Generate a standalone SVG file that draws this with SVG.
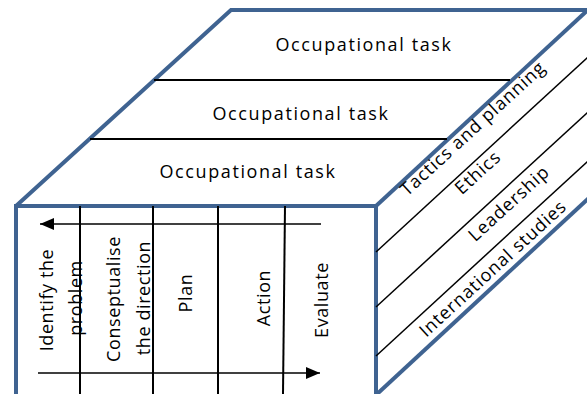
<svg xmlns="http://www.w3.org/2000/svg" width="587" height="394" viewBox="0 0 587 394">
<style>
.edge{fill:none;stroke:#3f6391;stroke-width:4;stroke-linejoin:miter}
.div{fill:none;stroke:#000;stroke-width:2}
.thin{fill:none;stroke:#000;stroke-width:1.5}
.arrow{fill:none;stroke:#000;stroke-width:1.5;marker-end:url(#ah)}
text{font-family:"Open Sans","Liberation Sans",sans-serif;font-size:18px;fill:#000;text-anchor:middle}
.task{letter-spacing:1.6px}
.step{letter-spacing:0.6px}
.subj{letter-spacing:0.9px}
</style>
<defs>
<marker id="ah" markerUnits="userSpaceOnUse" markerWidth="14" markerHeight="12" refX="14" refY="6" orient="auto">
<path d="M0,0 L14,6 L0,12 Z" fill="#000"/>
</marker>
</defs>
<rect width="587" height="394" fill="#fff"/>
<g id="cube">
<path class="edge" d="M16,206 L231,10 H592"/>
<path class="edge" d="M16,400 V206 H376 V400"/>
<path class="edge" d="M376,206 L590,8"/>
<path class="edge" d="M376,395 L590,197"/>
</g>
<g id="connectors">
<path class="div" d="M154,80 H510"/>
<path class="div" d="M90,139 H447"/>
<path class="div" d="M80,206 V394"/>
<path class="div" d="M153,206 V394"/>
<path class="div" d="M218,206 V394"/>
<path class="div" d="M285,206 L283,394"/>
<path class="thin" d="M376,252 L588,57"/>
<path class="thin" d="M376,307 L588,112"/>
<path class="thin" d="M376,356 L588,161"/>
<path class="arrow" d="M321,224 H40"/>
<path class="arrow" d="M38,373 H320"/>
</g>
<g id="task-top"><text class="task" x="364" y="51">Occupational task</text></g>
<g id="task-middle"><text class="task" x="301" y="120">Occupational task</text></g>
<g id="task-bottom"><text class="task" x="248" y="178">Occupational task</text></g>
<g id="step-identify">
<text class="step" transform="translate(53,300) rotate(-90)">Identify the</text>
<text class="step" transform="translate(82,298) rotate(-90)">problem</text>
</g>
<g id="step-conseptualise">
<text class="step" transform="translate(120,299) rotate(-90)">Conseptualise</text>
<text class="step" transform="translate(150,298) rotate(-90)">the direction</text>
</g>
<g id="step-plan"><text class="step" transform="translate(192,293) rotate(-90)">Plan</text></g>
<g id="step-action"><text class="step" transform="translate(270,298) rotate(-90)">Action</text></g>
<g id="step-evaluate"><text class="step" transform="translate(328,300) rotate(-90)">Evaluate</text></g>
<g id="subject-tactics"><text class="subj" transform="translate(477,133) rotate(-42.5)">Tactics and planning</text></g>
<g id="subject-ethics"><text class="subj" transform="translate(482,177) rotate(-42.5)">Ethics</text></g>
<g id="subject-leadership"><text class="subj" transform="translate(513,208) rotate(-42.5)">Leadership</text></g>
<g id="subject-international"><text class="subj" transform="translate(497,273) rotate(-42.5)">International studies</text></g>
</svg>
